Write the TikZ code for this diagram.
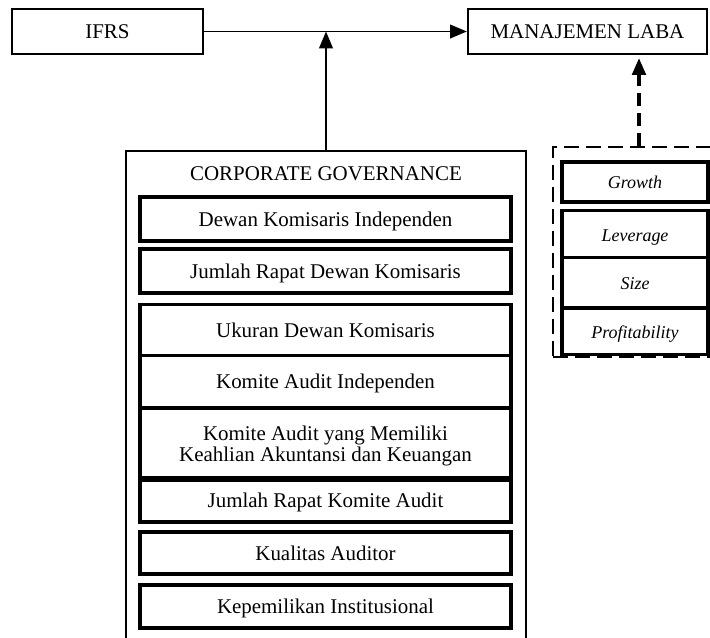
\documentclass[tikz,border=0pt]{standalone}
\usepackage{fontspec}
\setmainfont{Liberation Serif}
\usepackage{tikz}
\usetikzlibrary{arrows.meta}
\usetikzlibrary{shapes.multipart}
\newdimen\pxu
\pxu=0.25mm
\newcommand{\partrule}[2]{\rule[-#1\pxu]{0pt}{#2\pxu}}
\tikzset{
    % Solid triangular heads, as on the original
    >={Triangle[length=4.2mm,width=3.4mm]},
%
    % Plain boxes along the top row
    top box/.style={
        draw, line width=1.6pt, inner sep=0,
        minimum height=11.25mm, text height=3.5mm, text depth=0pt},
%
    % Thin frame round all the governance items
    group frame/.style={draw, line width=1.4pt, inner sep=0},
%
    % Heavy boxes for the single items
    item box/.style={
        draw, line width=2.3pt, inner sep=0,
        minimum width=92.75mm, text height=3.5mm, text depth=0pt},
    item split/.style={
        draw, line width=2.3pt, inner sep=0, minimum width=92.75mm,
        rectangle split, rectangle split parts=3},
%
    % Control variables, set smaller and in italics
    ctrl font/.style={font=\fontsize{12.8}{15}\selectfont\itshape},
    ctrl box/.style={
        draw, line width=2.3pt, inner sep=0, ctrl font,
        minimum width=36.5mm, text height=3mm, text depth=0pt},
    ctrl split/.style={
        draw, line width=2.3pt, inner sep=0, ctrl font, minimum width=36.5mm,
        rectangle split, rectangle split parts=3},
    dash frame/.style={draw, line width=1.8pt, dash pattern=on 3.75mm off 1.75mm},
%
    % Connectors
    link/.style={->, line width=1.4pt},
    dash link/.style={->, line width=2.3pt, dash pattern=on 3.2mm off 1.8mm}}

\begin{document}
\begin{tikzpicture}[x=0.25mm, y=-0.25mm, font=\fontsize{14.9}{14.2}\selectfont]

\path [use as bounding box] (0,0) rectangle (710,637);
\clip (0,0) rectangle (710,637);

% Top row
\node [top box, minimum width=47.75mm] (ifrs) at (107.5,31.5) {IFRS};
\node [top box, minimum width=59.75mm] (laba) at (587.5,31.5) {MANAJEMEN LABA};

% Corporate governance block
\node [group frame, anchor=north, minimum width=100mm, minimum height=137.5mm]
    (cg) at (326,150) {};
\node [text height=3.5mm, text depth=0pt] (cgtitle) at (326,173)
    {CORPORATE GOVERNANCE};

\node [item box, minimum height=11mm] (dki) at (325.5,219)
    {Dewan Komisaris Independen};
\node [item box, minimum height=11mm] (rdk) at (325.5,271)
    {Jumlah Rapat Dewan Komisaris};
\node [item split, anchor=north] (ukuran) at (325.5,303)
    {
        Ukuran Dewan Komisaris\partrule{17}{48}
    \nodepart{two}
        Komite Audit Independen\partrule{17.5}{49}
    \nodepart{three}
        \begin{tabular}[b]{@{}c@{}}
            Komite Audit yang Memiliki\\
            Keahlian Akuntansi dan Keuangan
        \end{tabular}\partrule{17.5}{69}
    };
\node [item box, minimum height=11mm] (rka) at (325.5,500)
    {Jumlah Rapat Komite Audit};
\node [item box, minimum height=10.5mm] (kual) at (325.5,553)
    {Kualitas Auditor};
\node [item box, minimum height=10.75mm] (inst) at (325.5,606.5)
    {Kepemilikan Institusional};

% Control variables
\node [dash frame, minimum width=43mm, minimum height=52.5mm]
    (kontrol) at (639,252) {};
\node [ctrl box, minimum height=10mm] (growth) at (635,182) {Growth};
\node [ctrl split, anchor=north] (ukrn) at (635,209)
    {
        Leverage\partrule{15}{44}
    \nodepart{two}
        Size\partrule{17}{47}
    \nodepart{three}
        Profitability\partrule{14}{43}
    };

% Connectors
\draw [link] (ifrs) -- (laba);
\draw [link] (cg.north) -- (cg.north |- ifrs.east);
\draw [dash link, shorten >=0.75mm] (kontrol.north) -- (kontrol.north |- laba.south);

\end{tikzpicture}
\end{document}
